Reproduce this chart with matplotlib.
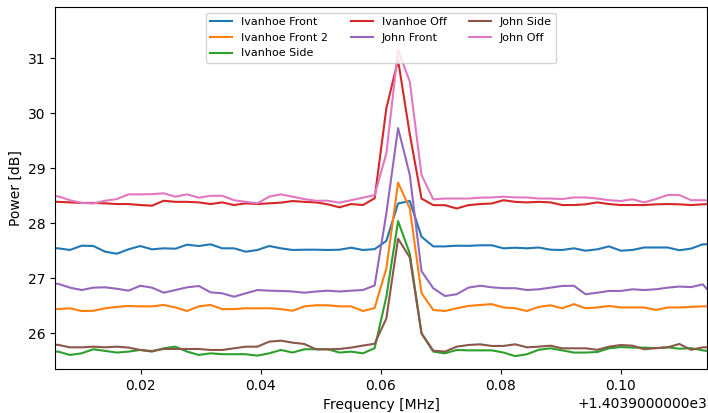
"""Power spectra around the 1403.96 MHz line for each receiver position."""
import numpy as np
import matplotlib
matplotlib.use("Agg")
import matplotlib.pyplot as plt
from matplotlib.ticker import ScalarFormatter

# channel grid (MHz), regular spacing of the spectrometer
F0 = 1403.9 + 0.008207
DF = 0.001953125
freq = F0 + DF * np.arange(-2, 56)

ivanhoe_front = [27.545, 27.545, 27.515, 27.593, 27.587, 27.484, 27.447, 27.527, 27.587, 27.527,
                 27.545, 27.538, 27.611, 27.587, 27.618, 27.545, 27.545, 27.484, 27.515, 27.587,
                 27.545, 27.515, 27.52, 27.52, 27.515, 27.52, 27.556, 27.515, 27.53, 27.68,
                 28.36, 28.405, 27.756, 27.58, 27.58, 27.593, 27.59, 27.60, 27.60, 27.545,
                 27.556, 27.545, 27.56, 27.52, 27.515, 27.545, 27.502, 27.527, 27.58, 27.502,
                 27.515, 27.56, 27.56, 27.56, 27.51, 27.54, 27.618, 27.62]
ivanhoe_front2 = [26.44, 26.44, 26.455, 26.405, 26.41, 26.455, 26.48, 26.497, 26.49, 26.49,
                  26.515, 26.47, 26.405, 26.49, 26.515, 26.44, 26.44, 26.455, 26.455, 26.455,
                  26.44, 26.41, 26.49, 26.51, 26.51, 26.49, 26.49, 26.405, 26.46, 27.18,
                  28.74, 28.27, 26.73, 26.425, 26.405, 26.455, 26.497, 26.515, 26.53, 26.47,
                  26.455, 26.405, 26.48, 26.51, 26.455, 26.53, 26.455, 26.47, 26.497, 26.47,
                  26.47, 26.47, 26.425, 26.47, 26.47, 26.48, 26.49, 26.49]
ivanhoe_side = [25.667, 25.667, 25.606, 25.636, 25.71, 25.68, 25.65, 25.667, 25.697, 25.667,
                25.727, 25.757, 25.667, 25.606, 25.636, 25.62, 25.62, 25.62, 25.594, 25.636,
                25.697, 25.65, 25.71, 25.71, 25.71, 25.65, 25.667, 25.636, 25.73, 26.665,
                28.04, 27.45, 26.0, 25.667, 25.636, 25.697, 25.69, 25.69, 25.69, 25.65,
                25.585, 25.62, 25.70, 25.727, 25.69, 25.65, 25.65, 25.66, 25.727, 25.75,
                25.74, 25.74, 25.73, 25.745, 25.72, 25.73, 25.69, 25.66]
ivanhoe_off = [28.39, 28.39, 28.38, 28.37, 28.37, 28.363, 28.35, 28.35, 28.332, 28.32,
               28.41, 28.39, 28.39, 28.38, 28.35, 28.38, 28.332, 28.363, 28.35, 28.363,
               28.375, 28.405, 28.39, 28.38, 28.345, 28.29, 28.35, 28.332, 28.455, 30.09,
               30.97, 29.62, 28.45, 28.33, 28.33, 28.27, 28.33, 28.35, 28.36, 28.42,
               28.39, 28.38, 28.39, 28.38, 28.332, 28.332, 28.345, 28.38, 28.35, 28.332,
               28.332, 28.332, 28.345, 28.35, 28.345, 28.332, 28.345, 28.35]
john_front = [26.909, 26.90, 26.83, 26.787, 26.83, 26.836, 26.81, 26.775, 26.865, 26.83,
              26.738, 26.787, 26.836, 26.86, 26.745, 26.727, 26.665, 26.727, 26.787, 26.775,
              26.77, 26.76, 26.738, 26.76, 26.775, 26.76, 26.775, 26.787, 26.87, 28.18,
              29.73, 28.88, 27.13, 26.82, 26.678, 26.71, 26.83, 26.865, 26.836, 26.82,
              26.82, 26.787, 26.8, 26.83, 26.86, 26.865, 26.71, 26.738, 26.77, 26.77,
              26.8, 26.787, 26.8, 26.83, 26.85, 26.84, 26.89, 26.65]
john_side = [25.79, 25.79, 25.745, 25.745, 25.757, 25.745, 25.757, 25.74, 25.697, 25.678,
             25.715, 25.715, 25.715, 25.715, 25.697, 25.697, 25.727, 25.757, 25.757, 25.848,
             25.866, 25.83, 25.806, 25.709, 25.709, 25.715, 25.74, 25.777, 25.81, 26.27,
             27.72, 27.38, 26.0, 25.685, 25.667, 25.757, 25.787, 25.80, 25.77, 25.77,
             25.80, 25.745, 25.757, 25.775, 25.727, 25.727, 25.727, 25.70, 25.757, 25.787,
             25.775, 25.71, 25.73, 25.745, 25.806, 25.70, 25.745, 25.745]
john_off = [28.50, 28.49, 28.42, 28.37, 28.36, 28.41, 28.44, 28.526, 28.526, 28.53,
            28.545, 28.484, 28.526, 28.466, 28.50, 28.50, 28.42, 28.39, 28.363, 28.484,
            28.526, 28.484, 28.44, 28.41, 28.41, 28.375, 28.42, 28.466, 28.514, 29.27,
            31.15, 30.575, 28.88, 28.435, 28.45, 28.45, 28.45, 28.466, 28.47, 28.484,
            28.47, 28.47, 28.45, 28.45, 28.44, 28.47, 28.47, 28.45, 28.42, 28.405,
            28.436, 28.38, 28.44, 28.514, 28.514, 28.42, 28.42, 28.405]

series = [
    ("Ivanhoe Front", ivanhoe_front),
    ("Ivanhoe Front 2", ivanhoe_front2),
    ("Ivanhoe Side", ivanhoe_side),
    ("Ivanhoe Off", ivanhoe_off),
    ("John Front", john_front),
    ("John Side", john_side),
    ("John Off", john_off),
]


class OldStyleOffset(ScalarFormatter):
    # older matplotlib wrote the offset with a fixed 10-digit mantissa
    def get_offset(self):
        if not self.offset:
            return ""
        e = int(np.floor(np.log10(abs(self.offset))))
        return "+%1.10fe%d" % (self.offset / 10 ** e, e)


fig = plt.figure(figsize=(7.08, 4.13), dpi=100)
ax = fig.add_axes([55 / 708, 1 - 369 / 413, 652 / 708, 361.7 / 413])

for label, power in series:
    ax.plot(freq, power, label=label)

ax.set_xlim(1403.9 + 0.00572, 1403.9 + 0.11438)
ax.set_ylim(25.351, 31.927)
ax.xaxis.set_major_formatter(OldStyleOffset())
ax.set_xlabel("Frequency [MHz]")
ax.set_ylabel("Power [dB]")
ax.yaxis.set_label_coords(-0.05, 0.5)
ax.legend(loc="upper center", ncol=3, fontsize=8)

fig.savefig("out.png", dpi=100)
